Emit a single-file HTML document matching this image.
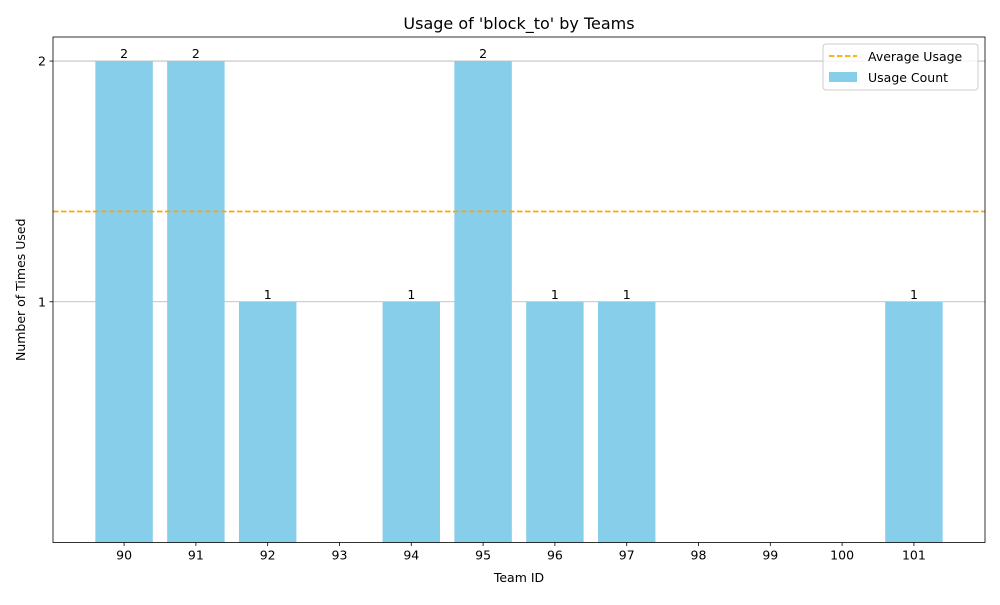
<!DOCTYPE html>
<html><head><meta charset="utf-8">
<style>
body{margin:0;background:#fff;font-family:"Liberation Sans","DejaVu Sans",sans-serif;}
svg text{font-family:"DejaVu Sans","Liberation Sans",sans-serif;}
</style></head>
<body>
<svg id="chart" width="1000" height="600" xmlns="http://www.w3.org/2000/svg"></svg>
<script>
const categories=["90","91","92","93","94","95","96","97","98","99","100","101"];
const counts=[2,2,1,0,1,2,1,1,0,0,0,1];
const yTicks=[1,2];

const svg=document.getElementById('chart');
const NS='http://www.w3.org/2000/svg';
const L=53,R=985,T=37,B=542.5,yMax=2.1;
const step=(R-L)/(categories.length+0.98);
const x=i=>L+step*(i+0.99);
const y=v=>B-(B-T)*v/yMax;
function mk(tag,attrs,parent){const e=document.createElementNS(NS,tag);for(const k in attrs)e.setAttribute(k,attrs[k]);(parent||svg).appendChild(e);return e;}
function txt(s,attrs){const e=mk('text',attrs);e.textContent=s;return e;}

yTicks.forEach(t=>{
  const g=mk('line',{x1:L,x2:R,y1:y(t),y2:y(t),stroke:'#b0b0b0','stroke-width':0.8});
  
  
});
const bw=step*0.8;
counts.forEach((v,i)=>{
  if(v>0){
    const r=mk('rect',{x:x(i)-bw/2,y:y(v),width:bw,height:B-y(v),fill:'#87ceeb'});
    
    
    const l=txt(String(v),{x:x(i),y:y(v)-3,'text-anchor':'middle','font-size':12.5,fill:'#000'});
    
    
  }
});
const nz=counts.filter(v=>v>0);
const avg=nz.reduce((a,b)=>a+b,0)/nz.length;
const al=mk('line',{x1:L,x2:R,y1:y(avg),y2:y(avg),stroke:'#ffa500','stroke-width':1.8,'stroke-dasharray':'5.5,2.5'});


const fr=mk('rect',{x:L,y:T,width:R-L,height:B-T,fill:'none',stroke:'#000','stroke-width':0.8});


categories.forEach((c,i)=>{
  mk('line',{x1:x(i),x2:x(i),y1:B,y2:B+3.5,stroke:'#000','stroke-width':0.8});
  const t=txt(c,{x:x(i),y:B+17,'text-anchor':'middle','font-size':12.5});
  
  
});
yTicks.forEach(v=>{
  mk('line',{x1:L-3.5,x2:L,y1:y(v),y2:y(v),stroke:'#000','stroke-width':0.8});
  const t=txt(String(v),{x:L-7,y:y(v)+4.5,'text-anchor':'end','font-size':12.5});
  
  
});
let e;
e=txt("Usage of 'block_to' by Teams",{x:(L+R)/2,y:29,'text-anchor':'middle','font-size':16});

e=txt("Team ID",{x:(L+R)/2,y:582,'text-anchor':'middle','font-size':12.5});

e=txt("Number of Times Used",{x:0,y:0,'text-anchor':'middle','font-size':12.5,transform:'translate(25,'+((T+B)/2)+') rotate(-90)'});

const lg=mk('g',{});

mk('rect',{x:823,y:44,width:155,height:46,rx:3,fill:'#fff','fill-opacity':0.8,stroke:'#ccc'},lg);
mk('line',{x1:829,x2:857,y1:56,y2:56,stroke:'#ffa500','stroke-width':1.8,'stroke-dasharray':'5.5,2.5'},lg);
let t1=mk('text',{x:868,y:61,'font-size':12.5},lg);t1.textContent='Average Usage';
mk('rect',{x:829,y:72,width:28,height:10,fill:'#87ceeb'},lg);
let t2=mk('text',{x:868,y:82,'font-size':12.5},lg);t2.textContent='Usage Count';
</script>
</body></html>
